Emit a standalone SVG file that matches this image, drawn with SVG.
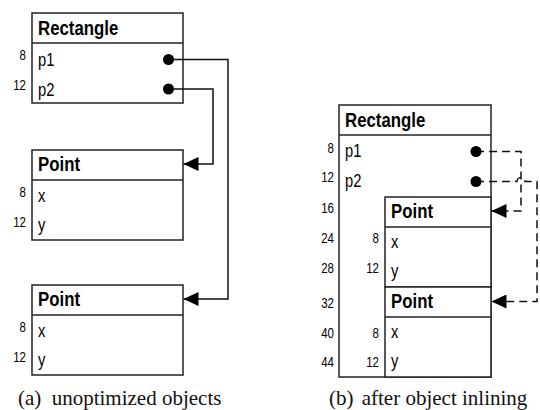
<svg xmlns="http://www.w3.org/2000/svg" width="540" height="410" viewBox="0 0 540 410">
  <style>
    .box { fill: #fff; stroke: #222; stroke-width: 1.5; }
    .sep { fill: none; stroke: #222; stroke-width: 1.5; }
    /* narrow sans: regular Liberation Sans squeezed horizontally by each text's transform */
    .title { font-family: "Liberation Sans", Arial, sans-serif; font-weight: bold; font-size: 20.5px; fill: #000; }
    .field { font-family: "Liberation Sans", Arial, sans-serif; font-size: 18px; fill: #000; }
    .off { font-family: "Liberation Sans", Arial, sans-serif; font-size: 14px; fill: #000; text-anchor: end; }
    .caption { font-family: "Liberation Serif", "Times New Roman", serif; font-size: 21px; fill: #111; }
    .ref { fill: none; stroke: #111; stroke-width: 1.5; marker-start: url(#dot); marker-end: url(#head); }
    .ref.dashed { stroke-dasharray: 8 5; }
  </style>
  <defs>
    <marker id="dot" markerUnits="userSpaceOnUse" viewBox="0 0 12 12" refX="6" refY="6" markerWidth="12" markerHeight="12" orient="auto">
      <circle cx="6" cy="6" r="5.5" fill="#000"/>
    </marker>
    <marker id="head" markerUnits="userSpaceOnUse" viewBox="0 0 15 14" refX="15" refY="7" markerWidth="15" markerHeight="14" orient="auto">
      <path d="M0,0 L15,7 L0,14 z" fill="#000"/>
    </marker>
  </defs>

  <!-- (a) separate objects -->
  <g id="a-rectangle">
    <rect class="box" x="32" y="13" width="151" height="90"/>
    <line class="sep" x1="32" y1="43" x2="183" y2="43"/>
    <text class="title" transform="translate(38,35) scale(0.82,1)">Rectangle</text>
    <text class="field" transform="translate(38,65.5) scale(0.82,1)">p1</text>
    <text class="field" transform="translate(38,95.5) scale(0.82,1)">p2</text>
    <text class="off" transform="translate(26,60) scale(0.82,1)">8</text>
    <text class="off" transform="translate(26,90) scale(0.82,1)">12</text>
  </g>
  <g id="a-point1">
    <rect class="box" x="32" y="150" width="151" height="90"/>
    <line class="sep" x1="32" y1="180" x2="183" y2="180"/>
    <text class="title" transform="translate(38,171) scale(0.82,1)">Point</text>
    <text class="field" transform="translate(38,202) scale(0.82,1)">x</text>
    <text class="field" transform="translate(38,231) scale(0.82,1)">y</text>
    <text class="off" transform="translate(26,197) scale(0.82,1)">8</text>
    <text class="off" transform="translate(26,227) scale(0.82,1)">12</text>
  </g>
  <g id="a-point2">
    <rect class="box" x="32" y="285" width="151" height="90"/>
    <line class="sep" x1="32" y1="315" x2="183" y2="315"/>
    <text class="title" transform="translate(38,306) scale(0.82,1)">Point</text>
    <text class="field" transform="translate(38,337) scale(0.82,1)">x</text>
    <text class="field" transform="translate(38,366) scale(0.82,1)">y</text>
    <text class="off" transform="translate(26,332) scale(0.82,1)">8</text>
    <text class="off" transform="translate(26,362) scale(0.82,1)">12</text>
  </g>

  <!-- (b) inlined layout -->
  <g id="b-rectangle">
    <rect class="box" x="339" y="105" width="152" height="272"/>
    <line class="sep" x1="339" y1="135" x2="491" y2="135"/>
    <text class="title" transform="translate(345,127) scale(0.82,1)">Rectangle</text>
    <text class="field" transform="translate(345,157) scale(0.82,1)">p1</text>
    <text class="field" transform="translate(345,187) scale(0.82,1)">p2</text>
    <text class="off" transform="translate(334,153) scale(0.82,1)">8</text>
    <text class="off" transform="translate(334,182) scale(0.82,1)">12</text>
    <text class="off" transform="translate(334,213) scale(0.82,1)">16</text>
    <text class="off" transform="translate(334,243) scale(0.82,1)">24</text>
    <text class="off" transform="translate(334,273) scale(0.82,1)">28</text>
    <text class="off" transform="translate(334,308) scale(0.82,1)">32</text>
    <text class="off" transform="translate(334,338) scale(0.82,1)">40</text>
    <text class="off" transform="translate(334,367) scale(0.82,1)">44</text>
  </g>
  <g id="b-point1">
    <rect class="box" x="385" y="197" width="106" height="90"/>
    <line class="sep" x1="385" y1="227" x2="491" y2="227"/>
    <text class="title" transform="translate(391,218) scale(0.82,1)">Point</text>
    <text class="field" transform="translate(391,248) scale(0.82,1)">x</text>
    <text class="field" transform="translate(391,277) scale(0.82,1)">y</text>
    <text class="off" transform="translate(379,243) scale(0.82,1)">8</text>
    <text class="off" transform="translate(379,273) scale(0.82,1)">12</text>
  </g>
  <g id="b-point2">
    <rect class="box" x="385" y="287" width="106" height="90"/>
    <line class="sep" x1="385" y1="317" x2="491" y2="317"/>
    <text class="title" transform="translate(391,308) scale(0.82,1)">Point</text>
    <text class="field" transform="translate(391,338) scale(0.82,1)">x</text>
    <text class="field" transform="translate(391,367) scale(0.82,1)">y</text>
    <text class="off" transform="translate(379,338) scale(0.82,1)">8</text>
    <text class="off" transform="translate(379,367) scale(0.82,1)">12</text>
  </g>

  <!-- references -->
  <g id="connectors">
    <path class="ref" d="M168.5,59.5 H228 V299 H183.5"/>
    <path class="ref" d="M168.5,89 H213 V164 H183.5"/>
    <path class="ref dashed" d="M476,151.5 H521 V211 H491.5"/>
    <path class="ref dashed" d="M476,181.5 H517 A4,4 0 0 1 525,181.5 H537 V301.5 H491.5"/>
  </g>

  <g id="captions">
    <text class="caption" y="405"><tspan x="18">(a)</tspan><tspan x="51.7">unoptimized objects</tspan></text>
    <text class="caption" y="405"><tspan x="329">(b)</tspan><tspan x="361.7">after object inlining</tspan></text>
  </g>
</svg>
